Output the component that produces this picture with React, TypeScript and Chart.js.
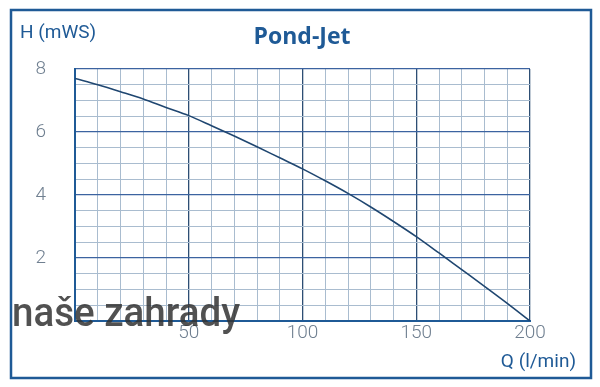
import React, { useEffect, useRef } from "react";
import { Chart, registerables } from "chart.js";

Chart.register(...registerables);

const flowQ: number[] = [0, 10, 20, 30, 40, 50, 60, 70, 80, 90, 100, 110, 120, 130, 140, 150, 160, 170, 180, 190, 200];
const headH: number[] = [7.7, 7.5, 7.28, 7.05, 6.78, 6.52, 6.2, 5.87, 5.53, 5.18, 4.83, 4.45, 4.05, 3.62, 3.16, 2.68, 2.16, 1.63, 1.1, 0.56, 0];
const xMajorTicks: number[] = [50, 100, 150, 200];
const yMajorTicks: number[] = [2, 4, 6, 8];

const titleText = "Pond-Jet";
const yTitleText = "H (mWS)";
const xTitleText = "Q (l/min)";
const watermarkText = "naše zahrady";

const BLUE = "#1f5a96";
const MINOR = "#a9bccf";
const MAJOR_X = "#2d4e74";
const MAJOR_Y = "#3c63a0";

const decorPlugin = {
  id: "decor",
  beforeDraw(chart: any) {
    const ctx = chart.ctx;
    ctx.save();
    ctx.fillStyle = "#ffffff";
    ctx.fillRect(0, 0, chart.width, chart.height);
    ctx.restore();
  },
  afterDraw(chart: any) {
    const ctx = chart.ctx;
    ctx.save();
    // frame
    ctx.strokeStyle = BLUE;
    ctx.lineWidth = 2.5;
    ctx.strokeRect(11, 10, 580, 368);
    // title
    ctx.fillStyle = BLUE;
    ctx.textBaseline = "middle";
    ctx.textAlign = "center";
    ctx.font = "bold 23px 'Open Sans'";
    ctx.fillText(titleText, 302, 37);
    // axis titles
    ctx.textAlign = "left";
    ctx.font = "400 19px Roboto";
    ctx.fillText(yTitleText, 20, 33);
    ctx.textAlign = "right";
    ctx.fillText(xTitleText, 576, 362);
    // watermark
    ctx.textAlign = "left";
    ctx.textBaseline = "alphabetic";
    ctx.font = "500 40px Roboto";
    ctx.fillStyle = "rgba(50,50,50,0.85)";
    ctx.fillText(watermarkText, 12, 326, 228);
    ctx.restore();
  },
};

export default function App() {
  const ref = useRef<HTMLCanvasElement | null>(null);

  useEffect(() => {
    if (!ref.current) return;
    const chart = new Chart(ref.current, {
      type: "line",
      data: {
        datasets: [
          {
            data: flowQ.map((q, i) => ({ x: q, y: headH[i] })),
            borderColor: "#1f4670",
            borderWidth: 1.6,
            pointRadius: 0,
            cubicInterpolationMode: "monotone",
            fill: false,
          },
        ],
      },
      options: {
        animation: false,
        responsive: false,
        maintainAspectRatio: false,
        layout: { padding: { left: 0, right: 70, top: 69, bottom: 36 } },
        plugins: {
          legend: { display: false },
          tooltip: { enabled: false },
          title: { display: false },
        },
        scales: {
          x: {
            type: "linear",
            min: 0,
            max: 200,
            afterFit: (s: any) => {
              s.height = 30;
            },
            ticks: {
              stepSize: 10,
              autoSkip: false,
              maxRotation: 0,
              padding: 1,
              color: "#6f7f90",
              font: { family: "Roboto", weight: "300", size: 19 },
              callback: (v: any) => (xMajorTicks.includes(Number(v)) ? String(v) : ""),
            },
            grid: {
              drawTicks: false,
              color: (c: any) => (c.tick && xMajorTicks.includes(c.tick.value) ? MAJOR_X : MINOR),
              lineWidth: (c: any) => (c.tick && xMajorTicks.includes(c.tick.value) ? 1.3 : 1),
            },
            border: { display: true, color: BLUE, width: 2 },
          },
          y: {
            type: "linear",
            min: 0,
            max: 8,
            afterFit: (s: any) => {
              s.width = 75;
            },
            ticks: {
              stepSize: 0.5,
              autoSkip: false,
              padding: 29,
              color: "#6f7f90",
              font: { family: "Roboto", weight: "300", size: 19 },
              callback: (v: any) => (yMajorTicks.includes(Number(v)) ? String(v) : ""),
            },
            grid: {
              drawTicks: false,
              color: (c: any) => (c.tick && yMajorTicks.includes(c.tick.value) ? MAJOR_Y : MINOR),
              lineWidth: (c: any) => (c.tick && yMajorTicks.includes(c.tick.value) ? 1.3 : 1),
            },
            border: { display: true, color: BLUE, width: 2 },
          },
        },
      },
      plugins: [decorPlugin],
    } as any);
    return () => chart.destroy();
  }, []);

  return (
    <div style={{ position: "absolute", left: 0, top: 0, width: 600, height: 387 }}>
      <canvas ref={ref} width={600} height={387} style={{ width: 600, height: 387, display: "block" }} />
    </div>
  );
}
